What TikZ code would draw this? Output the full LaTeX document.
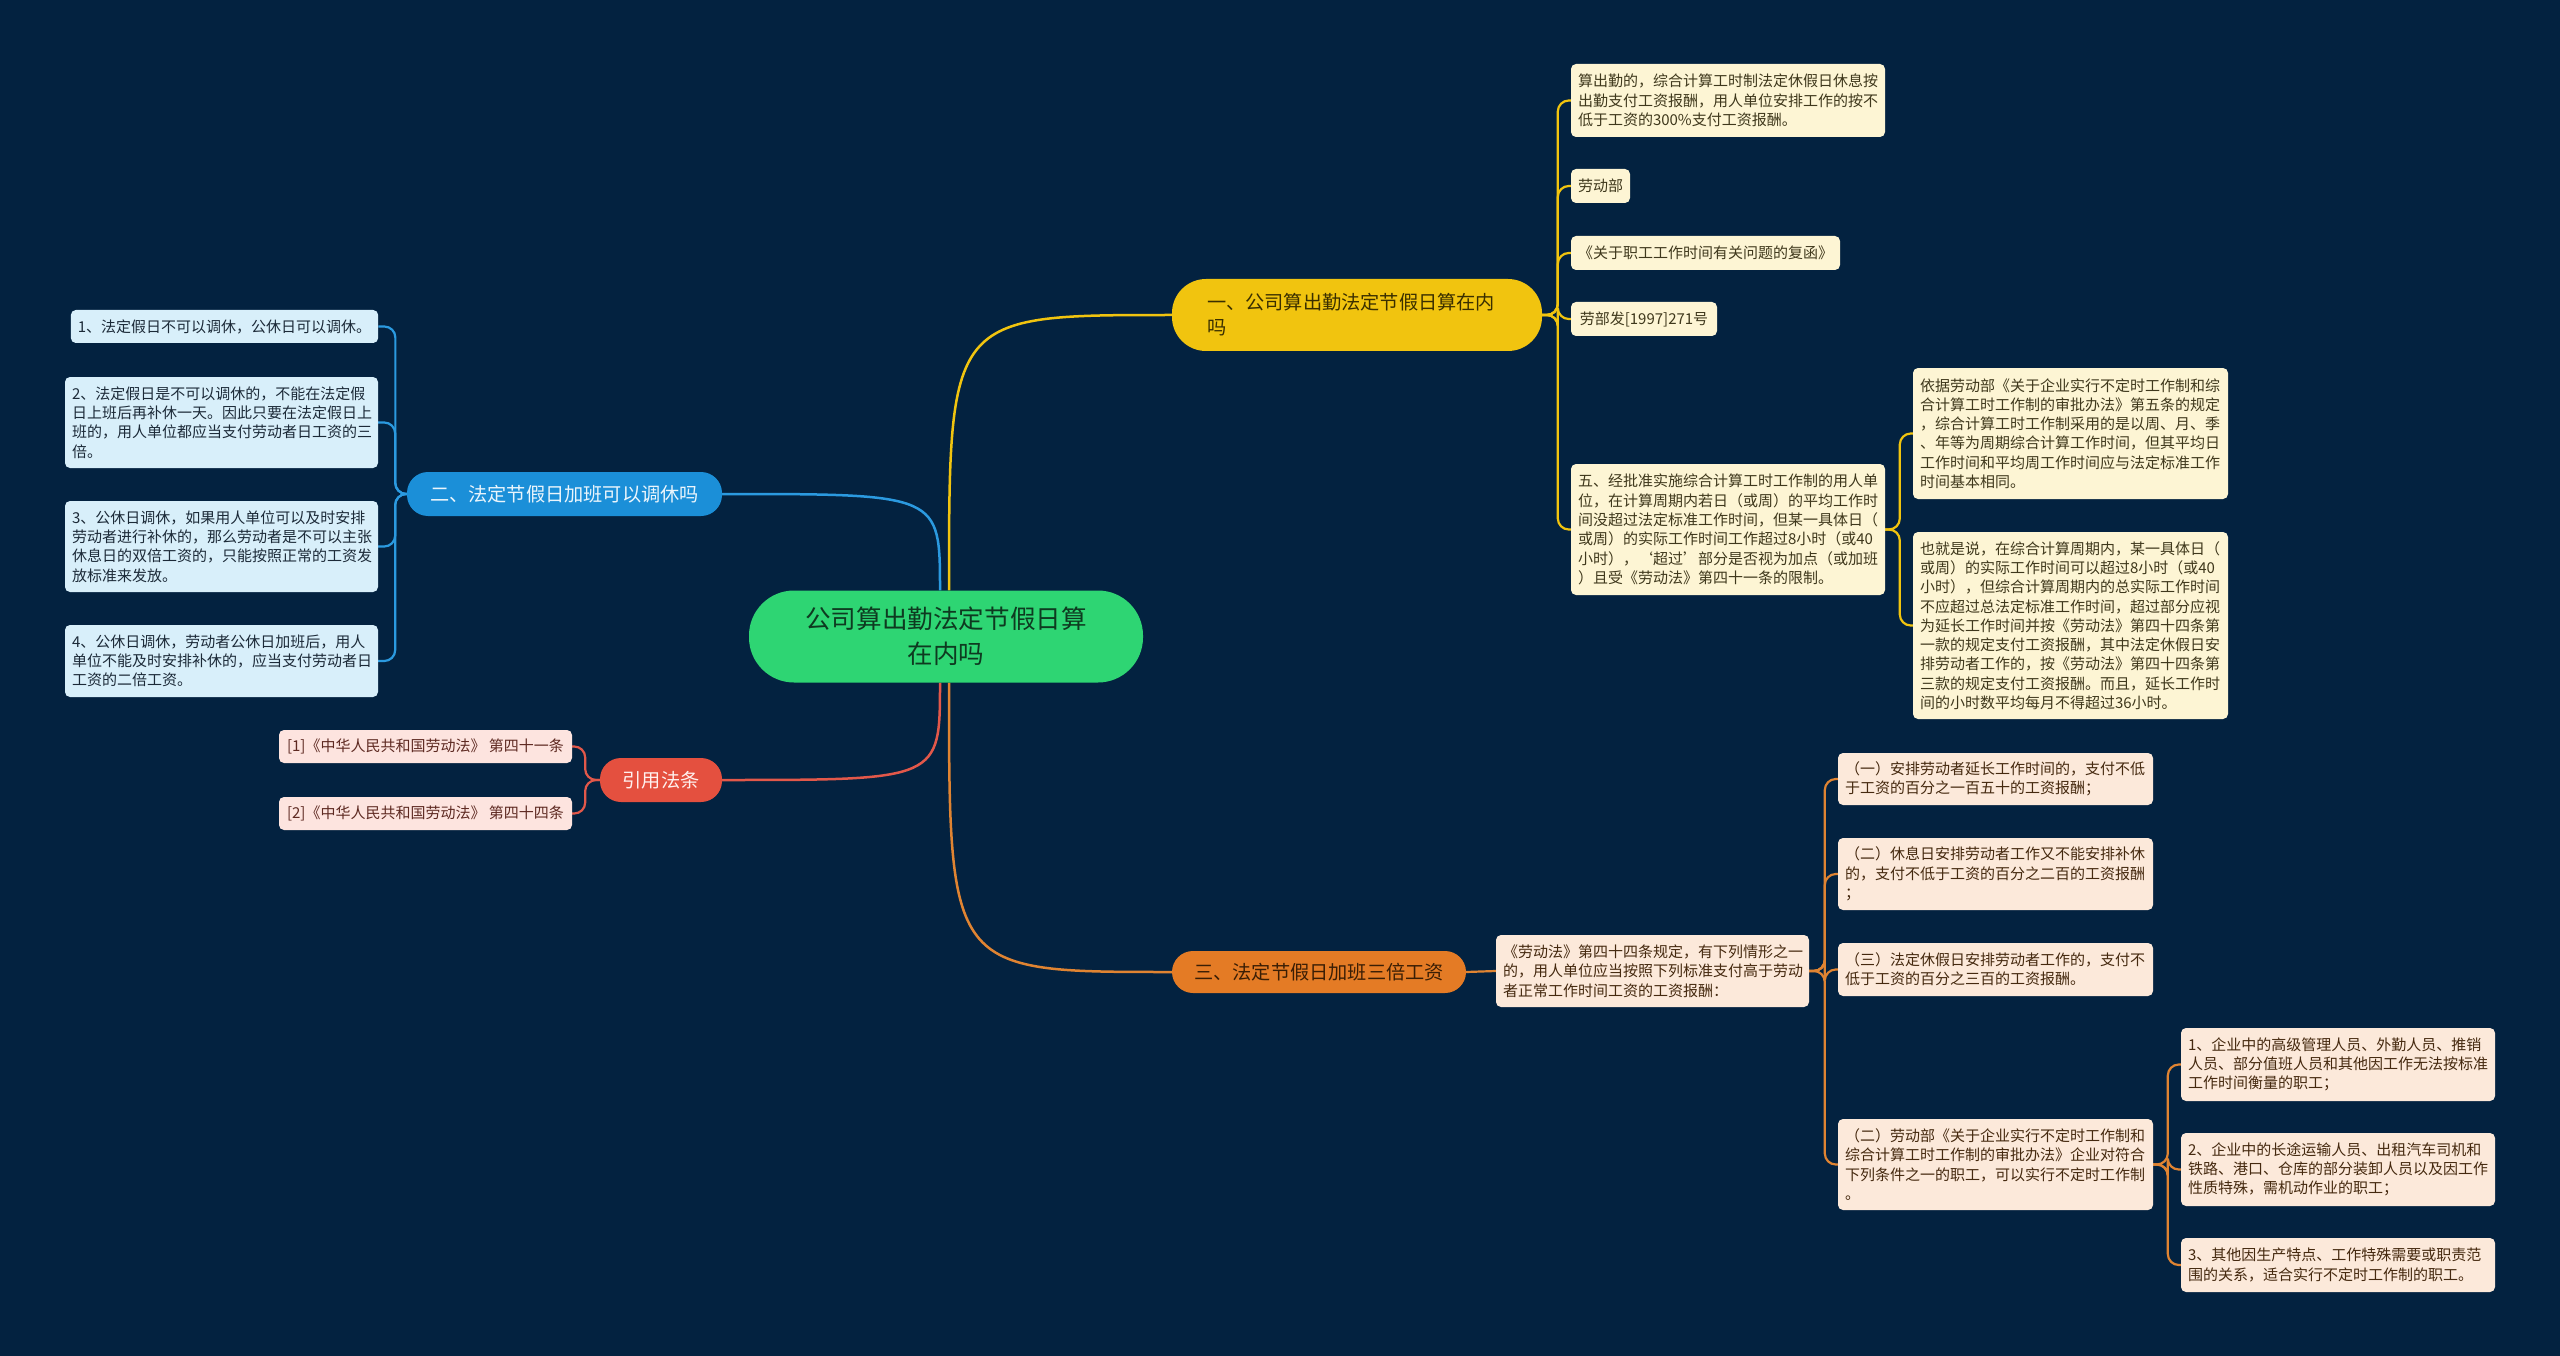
\documentclass[tikz,border=0pt]{standalone}
\usepackage{fontspec}
\setmainfont{Noto Sans CJK SC}
\definecolor{bgc}{HTML}{032240}
\definecolor{rootfill}{HTML}{2ED573}
\definecolor{roottext}{HTML}{0E3A20}
\definecolor{yfill}{HTML}{F1C40F}
\definecolor{ytext}{HTML}{3A2F00}
\definecolor{yleaf}{HTML}{FDF5D4}
\definecolor{yleaftext}{HTML}{3F381C}
\definecolor{bfill}{HTML}{1B8FD8}
\definecolor{btext}{HTML}{EAF5FC}
\definecolor{bleaf}{HTML}{D8EFFA}
\definecolor{bleaftext}{HTML}{1C2A38}
\definecolor{rfill}{HTML}{E4503F}
\definecolor{rtext}{HTML}{FFF0EE}
\definecolor{rleaf}{HTML}{FDE4DF}
\definecolor{rleaftext}{HTML}{5E2A22}
\definecolor{ofill}{HTML}{E47B25}
\definecolor{otext}{HTML}{3A1E05}
\definecolor{oleaf}{HTML}{FCE9DA}
\definecolor{oleaftext}{HTML}{45290F}
\definecolor{ylin}{HTML}{F1C40F}
\definecolor{blin}{HTML}{2B9AE0}
\definecolor{rlin}{HTML}{E2584A}
\definecolor{olin}{HTML}{E08432}
\pgfdeclarelayer{back}
\pgfdeclarelayer{lines}
\pgfsetlayers{back,lines,main}
\tikzset{
  rootbox/.style={fill=rootfill, text=roottext, rounded corners=45pt, minimum width=394pt, minimum height=92pt, align=center, inner sep=0pt, font=\fontsize{25.6}{35}\selectfont},
  brbox/.style={rounded corners=21pt, minimum height=44pt, inner xsep=0pt, inner ysep=0pt, align=center, font=\fontsize{19.2}{25}\selectfont},
  leafbox/.style={rounded corners=5pt, inner xsep=7pt, inner ysep=0pt, font=\fontsize{15}{19.3}\selectfont},
  multi/.style={align=left, text width=#1},
  lfY/.style={leafbox, fill=yleaf, text=yleaftext},
  lfB/.style={leafbox, fill=bleaf, text=bleaftext},
  lfR/.style={leafbox, fill=rleaf, text=rleaftext},
  lfO/.style={leafbox, fill=oleaf, text=oleaftext},
  mainln/.style={line width=2.5pt},
  brk/.style={line width=2.2pt, rounded corners=11pt},
}
\begin{document}
\begin{tikzpicture}[x=1pt,y=-1pt]
\begin{pgfonlayer}{back}
\fill[bgc] (0,0) rectangle (2560,1356);
\end{pgfonlayer}
\useasboundingbox (0,0) rectangle (2560,1356);

% root
\node[rootbox] (root) at (946,636.5) {公司算出勤法定节假日算\\在内吗};

% branches
\node[brbox, fill=yfill, text=ytext, rounded corners=34pt, minimum height=72pt, align=left, text width=300pt, inner xsep=35pt] (b1) at (1357,315) {一、公司算出勤法定节假日算在内\\吗};
\node[brbox, fill=bfill, text=btext, minimum width=315pt] (b2) at (564.5,494) {二、法定节假日加班可以调休吗};
\node[brbox, fill=rfill, text=rtext, minimum width=122pt] (b3) at (661,780) {引用法条};
\node[brbox, fill=ofill, text=otext, minimum width=294pt, minimum height=42pt] (b4) at (1319,972) {三、法定节假日加班三倍工资};

% yellow leaves
\node[lfY, multi=300pt, minimum height=73pt] (y1) at (1728,100.5) {算出勤的，综合计算工时制法定休假日休息按\\出勤支付工资报酬，用人单位安排工作的按不\\低于工资的300\%支付工资报酬。};
\node[lfY, minimum height=34pt, minimum width=59pt] (y2) at (1600.5,186) {劳动部};
\node[lfY, minimum height=34pt, minimum width=269pt] (y3) at (1705.5,253) {《关于职工工作时间有关问题的复函》};
\node[lfY, minimum height=34pt, minimum width=146pt] (y4) at (1644,319) {劳部发[1997]271号};
\node[lfY, multi=300pt, minimum height=131pt] (y5) at (1728,529.5) {五、经批准实施综合计算工时工作制的用人单\\位，在计算周期内若日（或周）的平均工作时\\间没超过法定标准工作时间，但某一具体日（\\或周）的实际工作时间工作超过8小时（或40\\小时），‘超过’部分是否视为加点（或加班\\）且受《劳动法》第四十一条的限制。};
\node[lfY, multi=301pt, minimum height=131pt] (y51) at (2070.5,433.5) {依据劳动部《关于企业实行不定时工作制和综\\合计算工时工作制的审批办法》第五条的规定\\，综合计算工时工作制采用的是以周、月、季\\、年等为周期综合计算工作时间，但其平均日\\工作时间和平均周工作时间应与法定标准工作\\时间基本相同。};
\node[lfY, multi=301pt, minimum height=187pt] (y52) at (2070.5,625.5) {也就是说，在综合计算周期内，某一具体日（\\或周）的实际工作时间可以超过8小时（或40\\小时），但综合计算周期内的总实际工作时间\\不应超过总法定标准工作时间，超过部分应视\\为延长工作时间并按《劳动法》第四十四条第\\一款的规定支付工资报酬，其中法定休假日安\\排劳动者工作的，按《劳动法》第四十四条第\\三款的规定支付工资报酬。而且，延长工作时\\间的小时数平均每月不得超过36小时。};

% blue leaves
\node[lfB, minimum height=33pt, minimum width=307pt] (bl1) at (224.5,326.5) {1、法定假日不可以调休，公休日可以调休。};
\node[lfB, multi=299pt, minimum height=91pt] (bl2) at (221.5,422.5) {2、法定假日是不可以调休的，不能在法定假\\日上班后再补休一天。因此只要在法定假日上\\班的，用人单位都应当支付劳动者日工资的三\\倍。};
\node[lfB, multi=299pt, minimum height=91pt] (bl3) at (221.5,546.5) {3、公休日调休，如果用人单位可以及时安排\\劳动者进行补休的，那么劳动者是不可以主张\\休息日的双倍工资的，只能按照正常的工资发\\放标准来发放。};
\node[lfB, multi=299pt, minimum height=72pt] (bl4) at (221.5,661) {4、公休日调休，劳动者公休日加班后，用人\\单位不能及时安排补休的，应当支付劳动者日\\工资的二倍工资。};

% red leaves
\node[lfR, minimum height=33pt, minimum width=293pt] (rl1) at (425.5,746.5) {[1]《中华人民共和国劳动法》 第四十一条};
\node[lfR, minimum height=33pt, minimum width=293pt] (rl2) at (425.5,813.5) {[2]《中华人民共和国劳动法》 第四十四条};

% orange leaves
\node[lfO, multi=299pt, minimum height=72pt] (om) at (1652.5,971) {《劳动法》第四十四条规定，有下列情形之一\\的，用人单位应当按照下列标准支付高于劳动\\者正常工作时间工资的工资报酬：};
\node[lfO, multi=301pt, minimum height=52pt] (o1) at (1995.5,779) {（一）安排劳动者延长工作时间的，支付不低\\于工资的百分之一百五十的工资报酬；};
\node[lfO, multi=301pt, minimum height=72pt] (o2) at (1995.5,874) {（二）休息日安排劳动者工作又不能安排补休\\的，支付不低于工资的百分之二百的工资报酬\\；};
\node[lfO, multi=301pt, minimum height=53pt] (o3) at (1995.5,969.5) {（三）法定休假日安排劳动者工作的，支付不\\低于工资的百分之三百的工资报酬。};
\node[lfO, multi=301pt, minimum height=91pt] (o4) at (1995.5,1164.5) {（二）劳动部《关于企业实行不定时工作制和\\综合计算工时工作制的审批办法》企业对符合\\下列条件之一的职工，可以实行不定时工作制\\。};
\node[lfO, multi=300pt, minimum height=73pt] (p1) at (2338,1064.5) {1、企业中的高级管理人员、外勤人员、推销\\人员、部分值班人员和其他因工作无法按标准\\工作时间衡量的职工；};
\node[lfO, multi=300pt, minimum height=73pt] (p2) at (2338,1169.5) {2、企业中的长途运输人员、出租汽车司机和\\铁路、港口、仓库的部分装卸人员以及因工作\\性质特殊，需机动作业的职工；};
\node[lfO, multi=300pt, minimum height=54pt] (p3) at (2338,1265) {3、其他因生产特点、工作特殊需要或职责范\\围的关系，适合实行不定时工作制的职工。};

\begin{pgfonlayer}{lines}
% root to branches
\draw[mainln, ylin] ([xshift=3pt]root.north) .. controls ([xshift=3pt]root.north |- b1.west) .. (b1.west);
\draw[mainln, blin] ([xshift=-6pt]root.north) .. controls ([xshift=-6pt]root.north |- b2.east) .. (b2.east);
\draw[mainln, rlin] ([xshift=-6pt]root.south) .. controls ([xshift=-6pt]root.south |- b3.east) .. (b3.east);
\draw[mainln, olin] ([xshift=3pt]root.south) .. controls ([xshift=3pt]root.south |- b4.west) .. (b4.west);
% yellow
\foreach \n in {y1,y2,y3,y4,y5}
  \draw[brk, ylin] (b1.east) -| ([xshift=-13pt]\n.west) -- (\n.west);
\foreach \n in {y51,y52}
  \draw[brk, ylin] (y5.east) -| ([xshift=-13pt]\n.west) -- (\n.west);
% blue
\foreach \n in {bl1,bl2,bl3,bl4}
  \draw[brk, blin] (b2.west) -| ([xshift=17pt]\n.east) -- (\n.east);
% red
\foreach \n in {rl1,rl2}
  \draw[brk, rlin] (b3.west) -| ([xshift=13pt]\n.east) -- (\n.east);
% orange
\draw[brk, olin] (b4.east) -- (om.west);
\foreach \n in {o1,o2,o3,o4}
  \draw[brk, olin] (om.east) -| ([xshift=-13pt]\n.west) -- (\n.west);
\foreach \n in {p1,p2,p3}
  \draw[brk, olin] (o4.east) -| ([xshift=-13pt]\n.west) -- (\n.west);
\end{pgfonlayer}
\end{tikzpicture}
\end{document}
